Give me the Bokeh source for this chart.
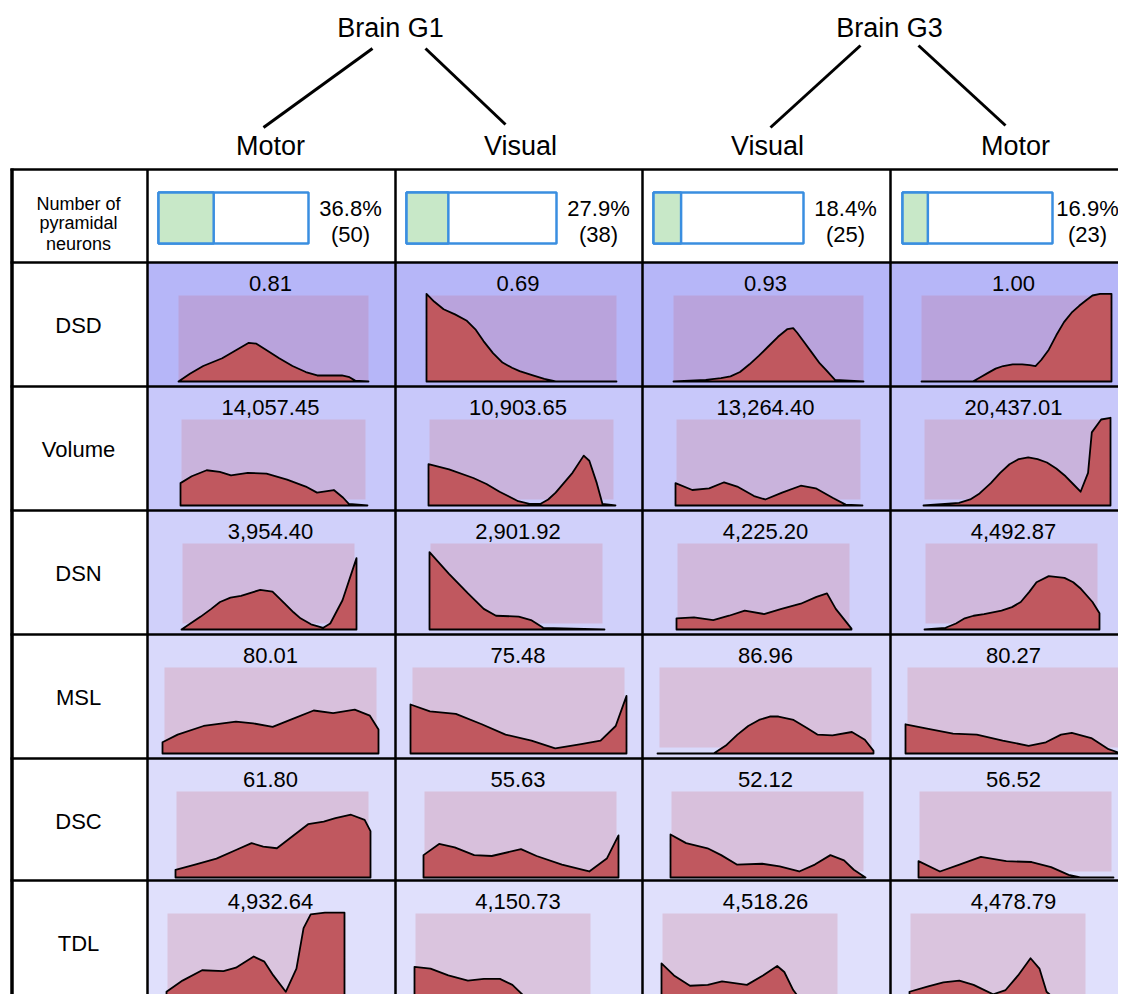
from bokeh.plotting import figure
from bokeh.models import Range1d
from bokeh.embed import file_html
from bokeh.resources import INLINE
from bokeh.core.properties import value

# ---------------- data ----------------
brains = ["Brain G1", "Brain G3"]
regions = ["Motor", "Visual", "Visual", "Motor"]
neuron_pct = [36.8, 27.9, 18.4, 16.9]
neuron_count = [50, 38, 25, 23]
features = ["DSD", "Volume", "DSN", "MSL", "DSC", "TDL"]

mean_dsd = [0.81, 0.69, 0.93, 1.00]
mean_volume = [14057.45, 10903.65, 13264.40, 20437.01]
mean_dsn = [3954.40, 2901.92, 4225.20, 4492.87]
mean_msl = [80.01, 75.48, 86.96, 80.27]
mean_dsc = [61.80, 55.63, 52.12, 56.52]
mean_tdl = [4932.64, 4150.73, 4518.26, 4478.79]

# density profiles (x fraction of range, relative density) per column
dsd_x = [[0, 0.06, 0.13, 0.23, 0.30, 0.37, 0.41, 0.46, 0.53, 0.60, 0.67, 0.73, 0.86, 0.90, 0.93, 1.0],
         [0, 0, 0.04, 0.09, 0.15, 0.21, 0.26, 0.30, 0.35, 0.40, 0.45, 0.49, 0.56, 0.62, 0.68, 1.0],
         [0, 0.17, 0.25, 0.30, 0.35, 0.40, 0.45, 0.50, 0.55, 0.60, 0.63, 0.65, 0.69, 0.73, 0.77, 0.80, 0.85, 1.0],
         [0, 0.27, 0.31, 0.35, 0.39, 0.43, 0.48, 0.53, 0.57, 0.60, 0.63, 0.67, 0.71, 0.75, 0.79, 0.83, 0.87, 0.90, 0.94, 1.0, 1.0]]
dsd_y = [[0, 0.09, 0.18, 0.27, 0.36, 0.45, 0.44, 0.37, 0.27, 0.18, 0.11, 0.07, 0.07, 0.05, 0.01, 0],
         [0, 1.02, 0.93, 0.84, 0.78, 0.71, 0.60, 0.47, 0.33, 0.22, 0.16, 0.12, 0.07, 0.03, 0, 0],
         [0, 0.02, 0.04, 0.06, 0.11, 0.20, 0.30, 0.41, 0.52, 0.61, 0.62, 0.57, 0.45, 0.33, 0.21, 0.14, 0.02, 0],
         [0, 0, 0.05, 0.10, 0.15, 0.18, 0.20, 0.20, 0.19, 0.18, 0.25, 0.37, 0.54, 0.69, 0.80, 0.88, 0.95, 1.0, 1.02, 1.02, 0]]

vol_x = [[0, 0, 0.06, 0.14, 0.21, 0.27, 0.36, 0.46, 0.57, 0.67, 0.73, 0.82, 0.87, 0.90, 1.0],
         [0, 0, 0.11, 0.24, 0.31, 0.38, 0.48, 0.54, 0.60, 0.64, 0.68, 0.77, 0.83, 0.86, 0.90, 0.93, 1.0],
         [0, 0, 0.09, 0.18, 0.26, 0.33, 0.42, 0.48, 0.57, 0.67, 0.75, 0.84, 0.91, 1.0],
         [0, 0.19, 0.25, 0.30, 0.36, 0.41, 0.46, 0.51, 0.56, 0.61, 0.66, 0.71, 0.76, 0.80, 0.84, 0.88, 0.90, 0.95, 1.0, 1.0]]
vol_y = [[0, 0.26, 0.34, 0.41, 0.39, 0.35, 0.38, 0.37, 0.30, 0.22, 0.15, 0.18, 0.09, 0.02, 0],
         [0, 0.48, 0.42, 0.32, 0.25, 0.16, 0.05, 0.02, 0.02, 0.07, 0.15, 0.38, 0.58, 0.52, 0.26, 0.02, 0],
         [0, 0.26, 0.18, 0.20, 0.27, 0.22, 0.11, 0.07, 0.15, 0.23, 0.20, 0.09, 0.01, 0],
         [0, 0.03, 0.07, 0.14, 0.26, 0.38, 0.48, 0.54, 0.56, 0.54, 0.50, 0.43, 0.34, 0.25, 0.16, 0.38, 0.85, 1.0, 1.02, 0]]

dsn_x = [[0, 0.11, 0.17, 0.22, 0.28, 0.34, 0.40, 0.45, 0.52, 0.59, 0.64, 0.68, 0.74, 0.81, 0.85, 0.92, 1.0, 1.0],
         [0, 0, 0.11, 0.22, 0.31, 0.38, 0.51, 0.58, 0.65, 1.0],
         [0, 0, 0.10, 0.21, 0.30, 0.39, 0.50, 0.60, 0.71, 0.80, 0.86, 0.91, 1.0, 1.0],
         [0, 0.12, 0.18, 0.23, 0.28, 0.34, 0.44, 0.50, 0.55, 0.60, 0.64, 0.71, 0.80, 0.85, 0.89, 0.96, 1.0, 1.0]]
dsn_y = [[0, 0.15, 0.24, 0.32, 0.37, 0.39, 0.43, 0.46, 0.44, 0.30, 0.20, 0.13, 0.06, 0.02, 0.07, 0.34, 0.83, 0],
         [0, 0.90, 0.65, 0.42, 0.24, 0.16, 0.15, 0.11, 0.02, 0],
         [0, 0.13, 0.14, 0.11, 0.16, 0.22, 0.18, 0.24, 0.30, 0.38, 0.42, 0.24, 0.01, 0],
         [0, 0.02, 0.07, 0.13, 0.16, 0.18, 0.22, 0.26, 0.32, 0.44, 0.55, 0.62, 0.60, 0.55, 0.48, 0.32, 0.19, 0]]

msl_x = [[0, 0, 0.07, 0.19, 0.34, 0.42, 0.51, 0.60, 0.70, 0.79, 0.89, 0.96, 1.0, 1.0],
         [0, 0, 0.09, 0.21, 0.33, 0.44, 0.56, 0.67, 0.79, 0.88, 0.95, 1.0, 1.0],
         [0, 0.26, 0.32, 0.37, 0.42, 0.47, 0.52, 0.56, 0.63, 0.69, 0.74, 0.81, 0.90, 0.96, 1.0, 1.0],
         [0, 0, 0.10, 0.22, 0.33, 0.45, 0.57, 0.65, 0.72, 0.77, 0.86, 0.94, 1.0]]
msl_y = [[0, 0.13, 0.22, 0.32, 0.37, 0.35, 0.31, 0.40, 0.50, 0.47, 0.51, 0.44, 0.28, 0],
         [0, 0.57, 0.49, 0.46, 0.34, 0.22, 0.15, 0.06, 0.11, 0.15, 0.32, 0.67, 0],
         [0, 0, 0.10, 0.22, 0.32, 0.39, 0.43, 0.43, 0.39, 0.30, 0.22, 0.21, 0.25, 0.16, 0.03, 0],
         [0, 0.34, 0.29, 0.23, 0.22, 0.15, 0.09, 0.13, 0.22, 0.24, 0.18, 0.05, 0]]

dsc_x = [[0, 0, 0.10, 0.21, 0.31, 0.39, 0.45, 0.52, 0.60, 0.68, 0.76, 0.82, 0.90, 0.97, 1.0, 1.0],
         [0, 0, 0.08, 0.16, 0.26, 0.35, 0.50, 0.58, 0.71, 0.85, 0.94, 1.0, 1.0],
         [0, 0, 0.08, 0.19, 0.26, 0.34, 0.47, 0.56, 0.66, 0.74, 0.82, 0.89, 0.94, 1.0],
         [0, 0, 0.11, 0.21, 0.32, 0.45, 0.58, 0.68, 0.77, 0.83, 1.0]]
dsc_y = [[0, 0.09, 0.15, 0.22, 0.32, 0.40, 0.36, 0.34, 0.48, 0.62, 0.65, 0.69, 0.73, 0.67, 0.54, 0],
         [0, 0.26, 0.39, 0.35, 0.26, 0.25, 0.33, 0.25, 0.15, 0.07, 0.22, 0.49, 0],
         [0, 0.50, 0.40, 0.34, 0.26, 0.15, 0.16, 0.13, 0.07, 0.15, 0.26, 0.20, 0.09, 0],
         [0, 0.19, 0.07, 0.15, 0.24, 0.19, 0.18, 0.12, 0.03, 0, 0]]

tdl_x = [[0, 0, 0.09, 0.20, 0.32, 0.39, 0.49, 0.55, 0.60, 0.67, 0.73, 0.77, 0.81, 0.89, 1.0, 1.0],
         [0, 0, 0.09, 0.19, 0.30, 0.39, 0.48, 0.55, 0.62, 0.66, 1.0],
         [0, 0, 0.07, 0.16, 0.26, 0.34, 0.41, 0.48, 0.57, 0.65, 0.69, 0.74, 0.78, 1.0],
         [0, 0, 0.10, 0.19, 0.28, 0.36, 0.47, 0.54, 0.61, 0.68, 0.73, 0.77, 0.82, 1.0]]
tdl_y = [[0, 0.09, 0.22, 0.34, 0.33, 0.37, 0.50, 0.44, 0.28, 0.09, 0.36, 0.83, 0.99, 1.01, 1.01, 0],
         [0, 0.38, 0.36, 0.28, 0.22, 0.24, 0.24, 0.17, 0.03, 0, 0],
         [0, 0.42, 0.28, 0.16, 0.17, 0.21, 0.19, 0.17, 0.28, 0.39, 0.32, 0.11, 0, 0],
         [0, 0.09, 0.15, 0.20, 0.22, 0.17, 0.06, 0.11, 0.28, 0.48, 0.36, 0.09, 0, 0]]

means = [mean_dsd, mean_volume, mean_dsn, mean_msl, mean_dsc, mean_tdl]
curves_x = [dsd_x, vol_x, dsn_x, msl_x, dsc_x, tdl_x]
curves_y = [dsd_y, vol_y, dsn_y, msl_y, dsc_y, tdl_y]

# ---------------- layout / style ----------------
FONT = value("Liberation Sans")
col_left = [147, 395, 642, 890]
col_right = [395, 642, 890, 1140]
row_top = [262, 386, 510, 634, 758, 880]
row_bot = [386, 510, 634, 758, 880, 1010]
curve_off = [(31, 221), (33, 220), (34, 209), (15, 231), (28, 223), (19, 197)]
pink_off = [(31, 221), (34, 218), (35, 207), (17, 229), (29, 221), (20, 195)]
pink_inset = [0, 6, 6, 6, 6, 5]
row_bg = ["#b6b6f8", "#c8c8fa", "#d0d0fa", "#d9d9fb", "#dcdcfb", "#e0e0fc"]
row_pink = ["#b9a3dc", "#c9b3dc", "#d0b8dc", "#d8c0dc", "#d8c0dc", "#dac4de"]
RED = "#c0585f"
BLUE = "#3a8ee0"
GREEN = "#c8e8c8"
CURVE_TOP = 33
CURVE_BASE = 119
W, H = 1118, 994

p = figure(width=W, height=H, x_range=Range1d(0, W), y_range=Range1d(H, 0),
           output_backend="svg", toolbar_location=None, min_border=0,
           x_axis_location=None, y_axis_location=None, outline_line_color=None,
           background_fill_color="white", border_fill_color="white")
p.grid.grid_line_color = None

bl, br, bt, bb, bc = [], [], [], [], []
pl, pr, pt, pb, pc = [], [], [], [], []
xs, ys = [], []
for r in range(len(features)):
    base = row_top[r] + CURVE_BASE
    top = row_top[r] + CURVE_TOP
    h = base - top
    for c in range(4):
        bl.append(col_left[c]); br.append(col_right[c])
        bt.append(row_top[r]); bb.append(row_bot[r]); bc.append(row_bg[r])
        pl.append(col_left[c] + pink_off[r][0]); pr.append(col_left[c] + pink_off[r][1])
        pt.append(top); pb.append(base - pink_inset[r]); pc.append(row_pink[r])
        x0 = col_left[c] + curve_off[r][0]
        x1 = col_left[c] + curve_off[r][1]
        xs.append([x0 + f * (x1 - x0) for f in curves_x[r][c]])
        ys.append([base - v * h for v in curves_y[r][c]])

p.quad(left=bl, right=br, top=bt, bottom=bb, fill_color=bc, line_color=None)
p.quad(left=pl, right=pr, top=pt, bottom=pb, fill_color=pc, line_color=None)
p.patches(xs=xs, ys=ys, fill_color=RED, line_color="black", line_width=1.8, line_join="round")

# neuron-count bars
bar_w = 150
bar_l = [158, 406, 653, 902]
p.quad(left=bar_l, right=[b + bar_w for b in bar_l], top=[192] * 4, bottom=[243] * 4,
       fill_color="white", line_color=BLUE, line_width=2.5)
p.quad(left=bar_l, right=[b + bar_w * v / 100 for b, v in zip(bar_l, neuron_pct)],
       top=[192] * 4, bottom=[243] * 4, fill_color=GREEN, line_color=BLUE, line_width=2.5)
tx = [min(b + bar_w + 42, 1087) for b in bar_l]
p.text(x=tx, y=[208] * 4, text=[f"{v:.1f}%" for v in neuron_pct], text_font=FONT,
       text_font_size="22px", text_align="center", text_baseline="middle")
p.text(x=tx, y=[234] * 4, text=[f"({n})" for n in neuron_count], text_font=FONT,
       text_font_size="22px", text_align="center", text_baseline="middle")

# table lines
hy = [169] + row_top
p.segment(x0=[10] * len(hy), y0=hy, x1=[1130] * len(hy), y1=hy, line_color="black", line_width=2.5)
p.segment(x0=col_left, y0=[169] * 4, x1=col_left, y1=[1010] * 4, line_color="black", line_width=2.5)
p.segment(x0=[11.5], y0=[168], x1=[11.5], y1=[1010], line_color="black", line_width=3.5)

# hierarchy header
p.multi_line(xs=[[372, 263], [425, 505], [860, 770], [918, 1005]],
             ys=[[48, 127], [48, 124], [45, 127], [45, 125]], line_color="black", line_width=3)
p.text(x=[390, 889], y=[27, 27], text=brains, text_font=FONT, text_font_size="27px",
       text_align="center", text_baseline="middle")
p.text(x=[270, 520, 767, 1015], y=[145] * 4, text=regions, text_font=FONT, text_font_size="27px",
       text_align="center", text_baseline="middle")

# row labels
p.text(x=[78] * 3, y=[203, 222, 243], text=["Number of", "pyramidal", "neurons"], text_font=FONT,
       text_font_size="18px", text_align="center", text_baseline="middle")
p.text(x=[78] * len(features), y=[t + 63 for t in row_top], text=features, text_font=FONT,
       text_font_size="22px", text_align="center", text_baseline="middle")

# mean values
vx, vy, vt = [], [], []
for r in range(len(features)):
    for c in range(4):
        vx.append((col_left[c] + min(col_right[c], 1138)) / 2 - 1)
        vy.append(row_top[r] + 21)
        vt.append(f"{means[r][c]:,.2f}")
p.text(x=vx, y=vy, text=vt, text_font=FONT, text_font_size="22px", text_align="center",
       text_baseline="middle")

open("out.html", "w").write(file_html(p, INLINE))
